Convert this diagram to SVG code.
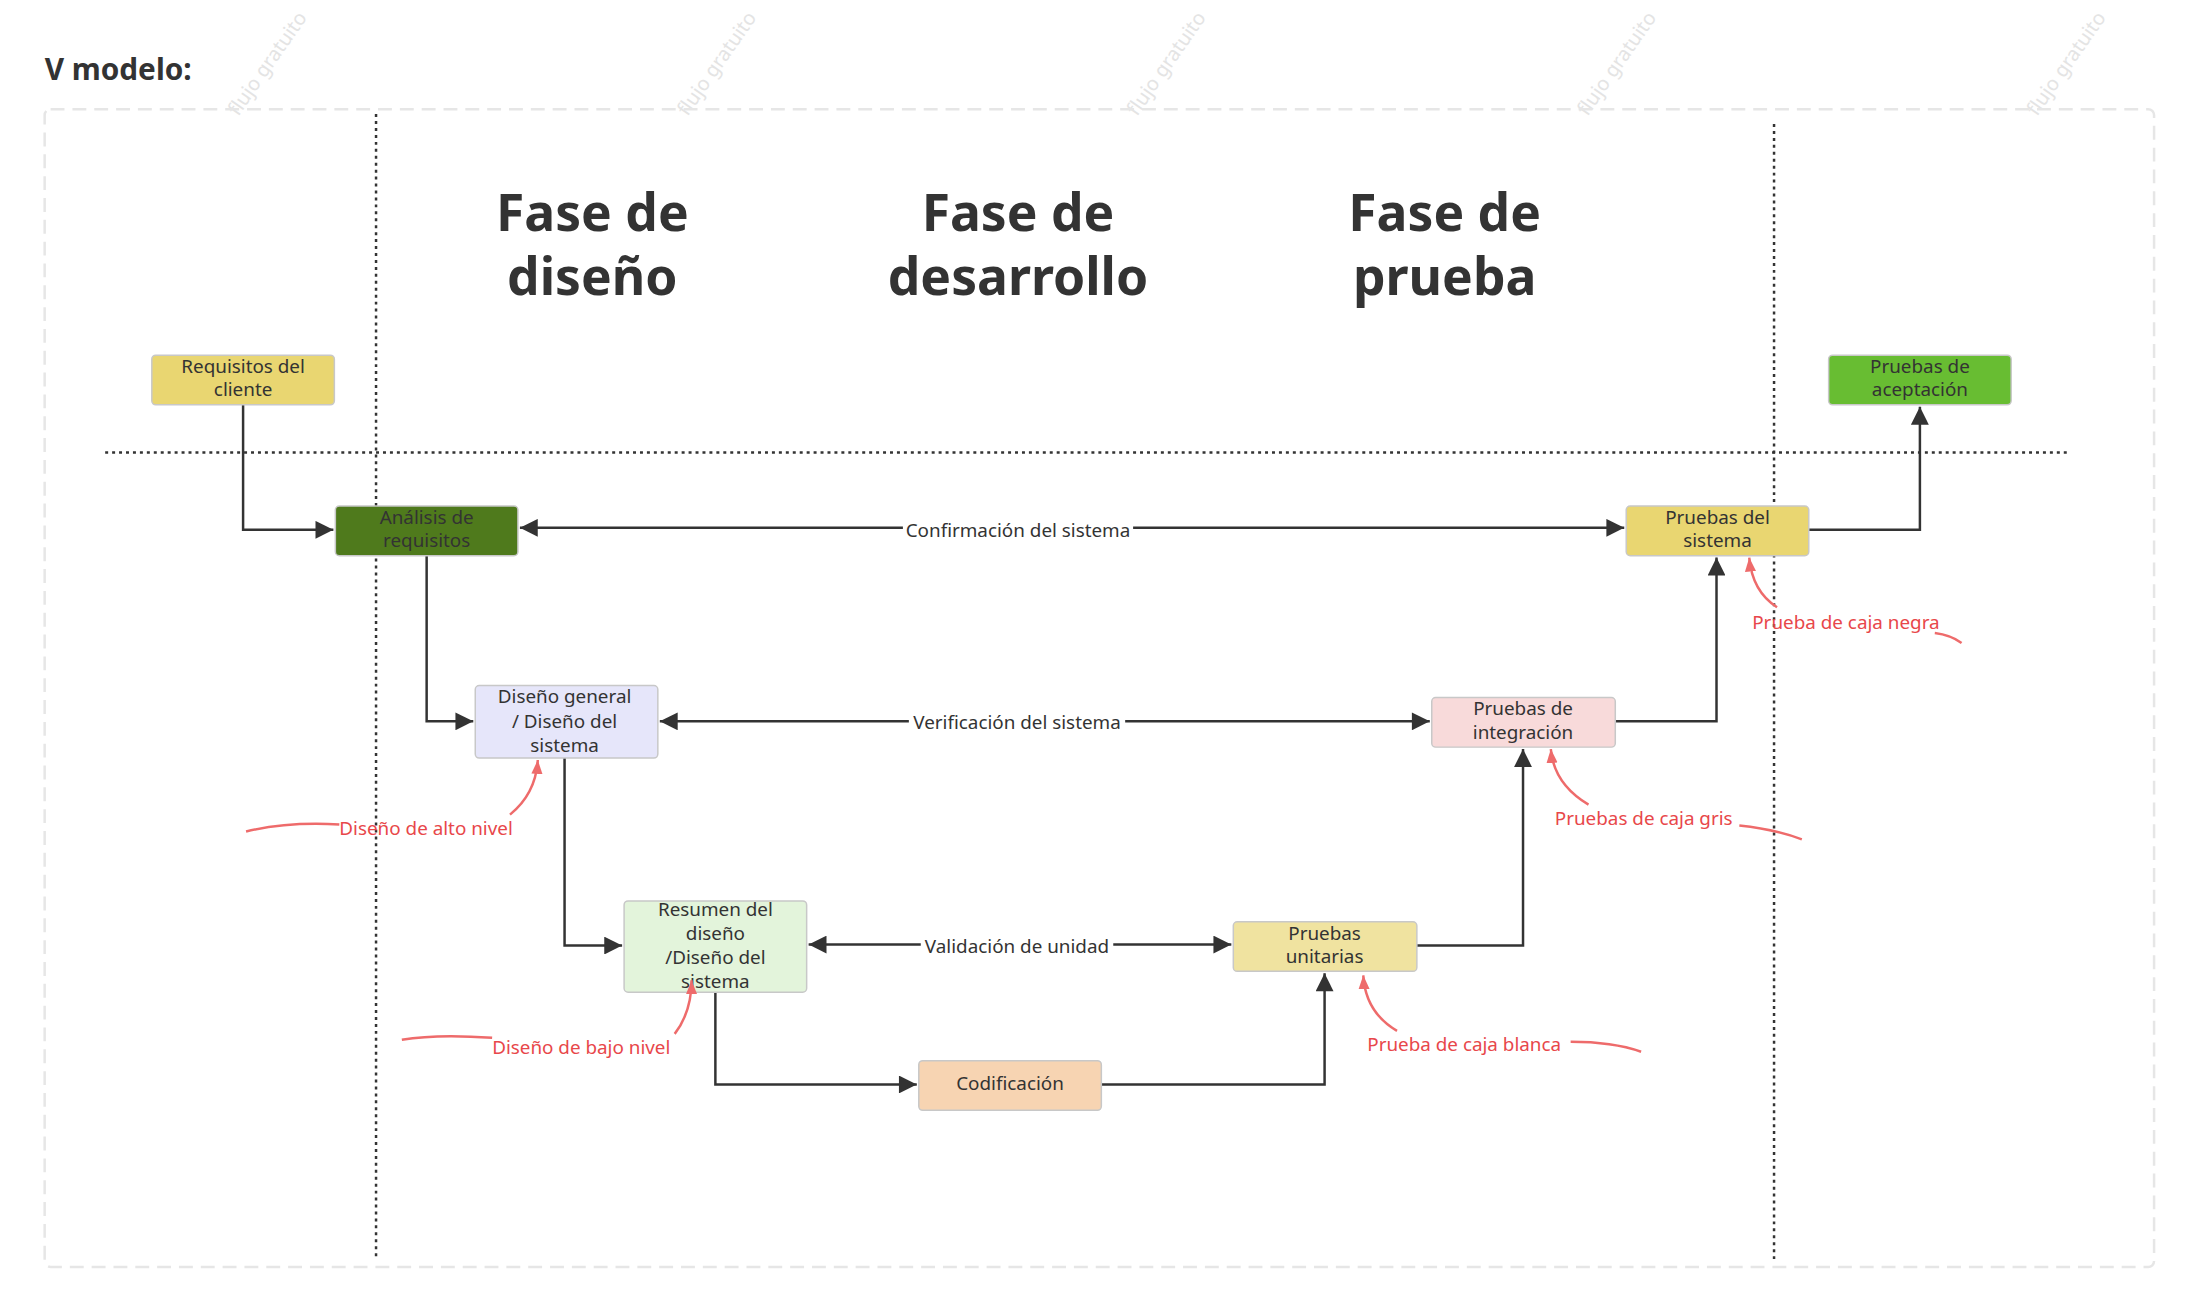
<svg xmlns="http://www.w3.org/2000/svg" width="2190" height="1303" viewBox="0 0 2190 1303">
<style>
.n{stroke:#c8c8c8;stroke-width:1.5}
.t{font-family:"Noto Sans","Liberation Sans",sans-serif;font-size:19px;fill:#333;text-anchor:middle}
.h{font-family:"Noto Sans","Liberation Sans",sans-serif;font-size:52px;font-weight:bold;fill:#333;text-anchor:middle}
.c{fill:none;stroke:#333;stroke-width:2.5}
.r{fill:none;stroke:#ee6b6b;stroke-width:2.5}
.rt{font-family:"Noto Sans","Liberation Sans",sans-serif;font-size:19px;fill:#e8474a}
.lb{font-family:"Noto Sans","Liberation Sans",sans-serif;font-size:19px;fill:#333;text-anchor:middle}
.w{font-family:"Noto Sans","Liberation Sans",sans-serif;font-size:20px;fill:#e4e4e4}
.d{stroke:#333;stroke-width:2.5;stroke-dasharray:3 4;fill:none}
</style>
<defs>
<marker id="ar" viewBox="0 0 10 10" refX="10" refY="5" markerWidth="14" markerHeight="20" orient="auto" markerUnits="userSpaceOnUse"><path d="M0,1 L10,5 L0,9 z" fill="#ee6b6b"/></marker>
<marker id="k" viewBox="0 0 10 10" refX="10" refY="5" markerWidth="22" markerHeight="18" orient="auto-start-reverse" markerUnits="userSpaceOnUse"><path d="M0,0 L10,5 L0,10 z" fill="#333"/></marker>
</defs>
<rect width="2190" height="1303" fill="#fff"/>
<g transform="scale(0.9922)">
<g id="watermarks">
<text class="w" transform="translate(240,118) rotate(-55)">flujo gratuito</text>
<text class="w" transform="translate(693,118) rotate(-55)">flujo gratuito</text>
<text class="w" transform="translate(1146,118) rotate(-55)">flujo gratuito</text>
<text class="w" transform="translate(1600,118) rotate(-55)">flujo gratuito</text>
<text class="w" transform="translate(2053,118) rotate(-55)">flujo gratuito</text>
</g>
<text x="45" y="81" font-family="Noto Sans,Liberation Sans,sans-serif" font-size="30" font-weight="bold" fill="#333">V modelo:</text>
<rect x="45" y="110" width="2126" height="1167" rx="6" fill="none" stroke="#e6e6e6" stroke-width="2.5" stroke-dasharray="14 8"/>
<g id="lanes">
<line class="d" x1="379" y1="115" x2="379" y2="1267"/>
<line class="d" x1="1788" y1="125" x2="1788" y2="1270"/>
<line class="d" x1="106" y1="456" x2="2084" y2="456"/>
</g>
<g id="headings">
<text class="h" x="597" y="233">Fase de</text><text class="h" x="597" y="297">diseño</text>
<text class="h" x="1026" y="233">Fase de</text><text class="h" x="1026" y="297">desarrollo</text>
<text class="h" x="1456" y="233">Fase de</text><text class="h" x="1456" y="297">prueba</text>
</g>
<g id="connectors">
<path class="c" d="M245,408 V534 H336" marker-end="url(#k)"/>
<path class="c" d="M524,532 H1637" marker-start="url(#k)" marker-end="url(#k)"/>
<path class="c" d="M430,560 V727 H477" marker-end="url(#k)"/>
<path class="c" d="M665,727 H1441" marker-start="url(#k)" marker-end="url(#k)"/>
<path class="c" d="M569,764 V953 H627" marker-end="url(#k)"/>
<path class="c" d="M815,952 H1241" marker-start="url(#k)" marker-end="url(#k)"/>
<path class="c" d="M721,1000 V1093 H924" marker-end="url(#k)"/>
<path class="c" d="M1110,1093 H1335 V981" marker-end="url(#k)"/>
<path class="c" d="M1428,953 H1535 V755" marker-end="url(#k)"/>
<path class="c" d="M1628,727 H1730 V562" marker-end="url(#k)"/>
<path class="c" d="M1823,534 H1935 V410" marker-end="url(#k)"/>
<rect x="910" y="520" width="232" height="26" fill="#fff"/><text class="lb" x="1026" y="541">Confirmación del sistema</text>
<rect x="916" y="714" width="218" height="26" fill="#fff"/><text class="lb" x="1025" y="735">Verificación del sistema</text>
<rect x="928" y="940" width="194" height="26" fill="#fff"/><text class="lb" x="1025" y="960">Validación de unidad</text>
</g>
<g id="n-requisitos"><rect class="n" x="153" y="358" width="184" height="50" rx="4" fill="#e9d671"/><text class="t" x="245" y="376">Requisitos del</text><text class="t" x="245" y="399">cliente</text></g>
<g id="n-analisis"><rect class="n" x="338" y="510" width="184" height="50" rx="4" fill="#4f7a1c"/><text class="t" x="430" y="528">Análisis de</text><text class="t" x="430" y="551">requisitos</text></g>
<g id="n-sistema"><rect class="n" x="1639" y="510" width="184" height="50" rx="4" fill="#e9d671"/><text class="t" x="1731" y="528">Pruebas del</text><text class="t" x="1731" y="551">sistema</text></g>
<g id="n-aceptacion"><rect class="n" x="1843" y="358" width="184" height="50" rx="4" fill="#68bd32"/><text class="t" x="1935" y="376">Pruebas de</text><text class="t" x="1935" y="399">aceptación</text></g>
<g id="n-general"><rect class="n" x="479" y="691" width="184" height="73" rx="4" fill="#e6e6fa"/><text class="t" x="569" y="709">Diseño general</text><text class="t" x="569" y="734">/ Diseño del</text><text class="t" x="569" y="758">sistema</text></g>
<g id="n-integracion"><rect class="n" x="1443" y="703" width="185" height="50" rx="4" fill="#f8dada"/><text class="t" x="1535" y="721">Pruebas de</text><text class="t" x="1535" y="745">integración</text></g>
<g id="n-resumen"><rect class="n" x="629" y="908" width="184" height="92" rx="4" fill="#e3f4db"/><text class="t" x="721" y="923">Resumen del</text><text class="t" x="721" y="947">diseño</text><text class="t" x="721" y="972">/Diseño del</text><text class="t" x="721" y="996">sistema</text></g>
<g id="n-unitarias"><rect class="n" x="1243" y="929" width="185" height="50" rx="4" fill="#f0e3a0"/><text class="t" x="1335" y="947">Pruebas</text><text class="t" x="1335" y="971">unitarias</text></g>
<g id="n-codificacion"><rect class="n" x="926" y="1069" width="184" height="50" rx="4" fill="#f7d4b2"/><text class="t" x="1018" y="1099">Codificación</text></g>
<g id="annotations">
<path class="r" d="M1791,612 Q1766,596 1763,562" marker-end="url(#ar)"/><text class="rt" x="1766" y="634">Prueba de caja negra</text><path class="r" d="M1950,638 Q1966,640 1977,648"/>
<path class="r" d="M1601,811 Q1566,790 1563,755" marker-end="url(#ar)"/><text class="rt" x="1567" y="831">Pruebas de caja gris</text><path class="r" d="M1753,832 Q1790,836 1816,846"/>
<path class="r" d="M1408,1039 Q1376,1020 1374,983" marker-end="url(#ar)"/><text class="rt" x="1378" y="1059">Prueba de caja blanca</text><path class="r" d="M1583,1050 Q1625,1050 1654,1060"/>
<path class="r" d="M514,821 Q540,800 542,766" marker-end="url(#ar)"/><text class="rt" x="342" y="842">Diseño de alto nivel</text><path class="r" d="M248,838 Q290,828 342,831"/>
<path class="r" d="M680,1042 Q697,1020 697,988" marker-end="url(#ar)"/><text class="rt" x="496" y="1062">Diseño de bajo nivel</text><path class="r" d="M405,1048 Q440,1042 496,1046"/>
</g>
</g>
</svg>
